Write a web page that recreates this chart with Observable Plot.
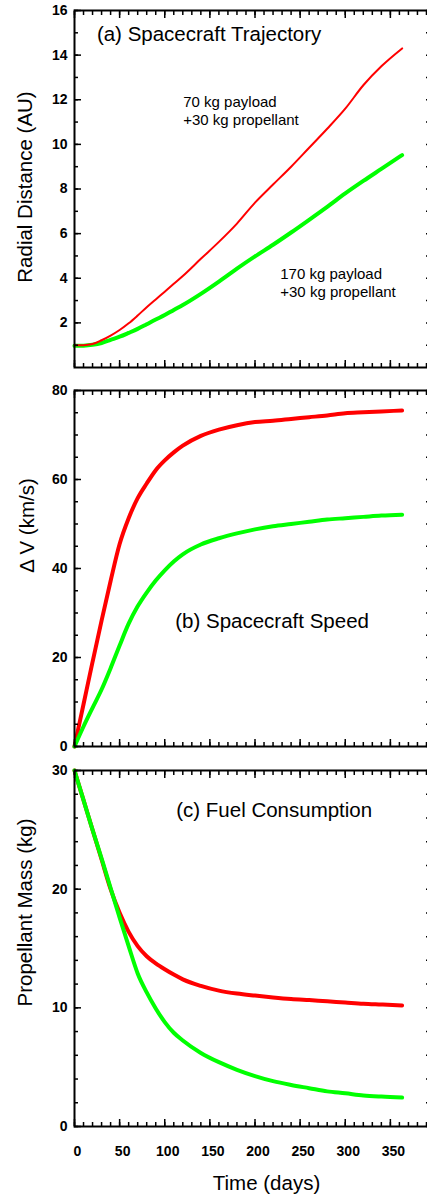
<!DOCTYPE html>
<html><head><meta charset="utf-8">
<script src="https://cdn.jsdelivr.net/npm/d3@7"></script>
<script src="https://cdn.jsdelivr.net/npm/@observablehq/plot@0.6"></script>
<style>
html,body{margin:0;padding:0;background:#fff;overflow:hidden;width:427px;}
#chart svg{display:block;}
</style></head><body><div id="chart"></div>
<script>
// ---- data ----
const days = [0,10,20,30,40,50,60,70,80,90,100,110,120,140,160,180,200,220,240,260,280,300,320,340,363];
const radial70  = [1.0,1.0,1.05,1.22,1.43,1.68,1.98,2.33,2.7,3.05,3.4,3.75,4.1,4.87,5.63,6.45,7.39,8.2,9.0,9.85,10.7,11.6,12.65,13.5,14.3];
const radial170 = [0.97,0.98,1.02,1.1,1.24,1.38,1.55,1.73,1.94,2.15,2.35,2.58,2.8,3.3,3.85,4.43,4.98,5.5,6.05,6.62,7.2,7.8,8.36,8.9,9.52];
const speed70   = [0,9.5,19,28.3,37.2,45.5,51.3,55.8,59.1,62.1,64.3,66.1,67.6,69.8,71.2,72.2,72.9,73.2,73.6,74.0,74.4,74.9,75.1,75.3,75.5];
const speed170  = [0,4.5,8.7,12.8,17.6,22.7,27.6,31.5,34.6,37.3,39.6,41.6,43.2,45.4,46.8,47.9,48.8,49.5,50.0,50.5,51.0,51.3,51.6,51.9,52.1];
const fuel70    = [30,27.5,25,22.5,20,18.0,16.4,15.2,14.35,13.75,13.25,12.8,12.4,11.85,11.45,11.2,11.03,10.88,10.75,10.65,10.55,10.45,10.35,10.28,10.2];
const fuel170   = [30,27.5,25,22.6,20.1,17.6,15.2,12.9,11.3,9.95,8.8,7.9,7.25,6.2,5.42,4.78,4.25,3.82,3.5,3.23,2.96,2.8,2.62,2.52,2.44];

const xTickLabels = [0,50,100,150,200,250,300,350];
const xMajor = [0,50,100,150,200,250,300,350,400];
const xMinor = d3.range(0,401,10);

const titleA = "(a) Spacecraft Trajectory";
const titleB = "(b) Spacecraft Speed";
const titleC = "(c) Fuel Consumption";
const noteA = [{x:120.5, y:11.55, text:"70 kg payload\n+30 kg propellant"},
               {x:228, y:3.84, text:"170 kg payload\n+30 kg propellant"}];

const RED = "#ff0000", GREEN = "#00ff00";
const FONT = "'Liberation Sans', Arial, Helvetica, sans-serif";

function rows(vals){ return days.map((d,i)=>({t:d, v:vals[i]})); }

function panel(o){
  const marks = [];
  for (const s of o.series) marks.push(Plot.line(rows(s.values), {x:"t", y:"v", stroke:s.color, strokeWidth:s.width, curve:"monotone-x"}));
  marks.push(Plot.frame({stroke:"#000", strokeWidth:2}));
  marks.push(Plot.axisY(o.yLabels, {anchor:"left", tickSize:0, tickPadding:7, fontSize:14, fontWeight:"bold", label:null}));
  marks.push(Plot.axisY(o.yMajor, {anchor:"left", tickSize:-7, strokeWidth:1.5, tickFormat:()=>"", label:null}));
  marks.push(Plot.axisY(o.yMinor, {anchor:"left", tickSize:-4, strokeWidth:1.5, tickFormat:()=>"", label:null}));
  marks.push(Plot.axisY(o.yMinor, {anchor:"right", tickSize:-10, strokeWidth:1.5, tickFormat:()=>"", label:null}));
  marks.push(Plot.axisX(xMajor, {anchor:"bottom", tickSize:-7, strokeWidth:1.5, tickFormat:()=>"", label:null}));
  marks.push(Plot.axisX(xMinor, {anchor:"bottom", tickSize:-4, strokeWidth:1.5, tickFormat:()=>"", label:null}));
  marks.push(Plot.axisX(xMajor, {anchor:"top", tickSize:-7, strokeWidth:1.5, tickFormat:()=>"", label:null}));
  marks.push(Plot.axisX(xMinor, {anchor:"top", tickSize:-4, strokeWidth:1.5, tickFormat:()=>"", label:null}));
  if (o.xLabels) {
    marks.push(Plot.axisX(xTickLabels, {anchor:"bottom", tickSize:0, tickPadding:20, dx:3, fontSize:14, fontWeight:"bold", label:null}));
    marks.push(Plot.text(["Time (days)"], {frameAnchor:"bottom", textAnchor:"middle", lineAnchor:"middle", dx:11.5, dy:57, fontSize:20.5}));
  }
  marks.push(Plot.text([o.yTitle], {frameAnchor:"left", textAnchor:"middle", lineAnchor:"middle", rotate:-90, dx:o.yTitleDx, dy:o.yTitleDy, fontSize:20.5}));
  marks.push(Plot.text([o.title], {x:()=>o.titlePos[0], y:()=>o.titlePos[1], text:d=>d, textAnchor:"start", fontSize:20.5}));
  if (o.notes) marks.push(Plot.text(o.notes, {x:"x", y:"y", text:"text", textAnchor:"start", fontSize:15, lineHeight:1.2}));
  return Plot.plot({
    width:427, height:o.height,
    marginLeft:74, marginRight:-8, marginTop:10, marginBottom:o.marginBottom,
    x:{domain:[0,400]},
    y:{domain:o.yDomain},
    style:{fontFamily:FONT, color:"#000", background:"#fff"},
    marks
  });
}

const chart = document.getElementById("chart");
chart.append(panel({
  height:380, marginBottom:13, yDomain:[0,16],
  yLabels:d3.range(2,17,2), yMajor:d3.range(2,17,2), yMinor:d3.range(1,17,1),
  series:[{values:radial170,color:GREEN,width:4},{values:radial70,color:RED,width:2}],
  yTitle:"Radial Distance (AU)", yTitleDx:-49, yTitleDy:-2,
  title:titleA, titlePos:[24.8,14.93], notes:noteA
}));
chart.append(panel({
  height:380, marginBottom:14, yDomain:[0,80],
  yLabels:d3.range(0,81,20), yMajor:d3.range(0,81,20), yMinor:d3.range(0,81,5),
  series:[{values:speed70,color:RED,width:4},{values:speed170,color:GREEN,width:4}],
  yTitle:"Δ V (km/s)", yTitleDx:-47, yTitleDy:-43,
  title:titleB, titlePos:[111.6,28.2]
}));
chart.append(panel({
  height:437, marginBottom:71, yDomain:[0,30],
  yLabels:d3.range(0,31,10), yMajor:d3.range(0,31,10), yMinor:d3.range(0,31,2),
  series:[{values:fuel70,color:RED,width:4},{values:fuel170,color:GREEN,width:4}],
  yTitle:"Propellant Mass (kg)", yTitleDx:-49, yTitleDy:-36,
  title:titleC, titlePos:[112.7,26.6], xLabels:true
}));
</script></body></html>
